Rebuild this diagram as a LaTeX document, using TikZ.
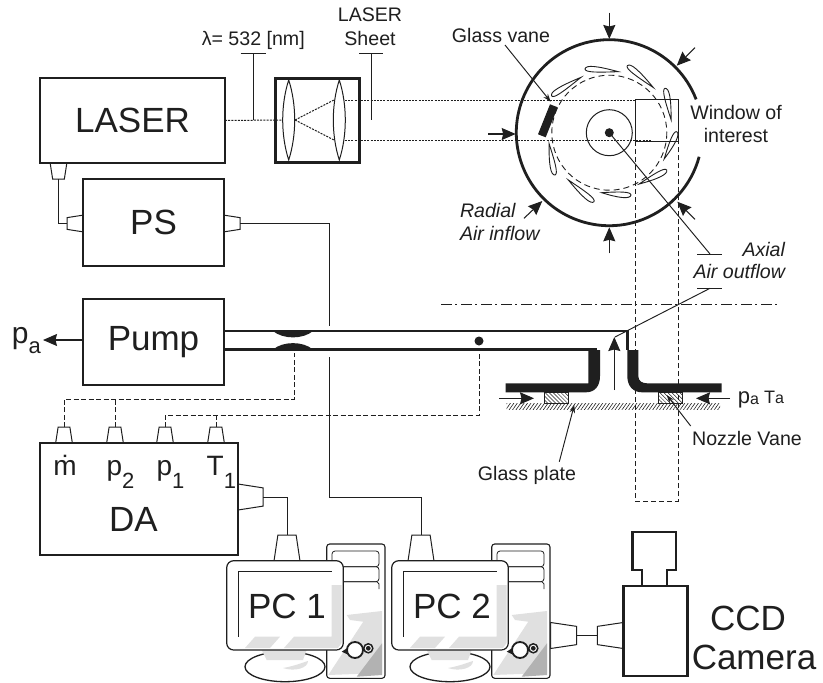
\documentclass[tikz,border=0pt]{standalone}
\usepackage{fontspec}
\setmainfont{Liberation Sans}
\usetikzlibrary{arrows.meta,shapes.geometric,patterns.meta}
\tikzset{
  boxnode/.style={draw=drawColor,line width=2.7pt,inner sep=0pt,outer sep=0pt,text=drawColor,font=\fontsize{35}{35}\selectfont},
  bigtext/.style={text=drawColor,inner sep=0pt,outer sep=0pt,font=\fontsize{35}{35}\selectfont},
  midtext/.style={text=drawColor,inner sep=0pt,outer sep=0pt,font=\fontsize{28}{28}\selectfont},
  smalltext/.style={text=drawColor,inner sep=0pt,outer sep=0pt,font=\fontsize{19.6}{20}\selectfont},
  plug/.style={draw=drawColor,line width=1pt,trapezium,trapezium stretches=true,trapezium angle=78,inner sep=1pt,outer sep=0pt,minimum width=16.7pt,minimum height=16pt},
  bigplug/.style={plug,minimum width=26pt,minimum height=26pt},
  wire/.style={draw=drawColor,line width=0.95pt},
  sigwire/.style={draw=drawColor,line width=0.95pt,dash pattern=on 5pt off 2.5pt},
  beam/.style={draw=drawColor,line width=1pt,dash pattern=on 2pt off 1.2pt},
  pipe/.style={draw=drawColor,line width=2.4pt},
  lens/.style={draw=drawColor,line width=1pt},
  airfoil/.style={draw=drawColor,line width=0.9pt,fill=white},
  flowarrow/.style={draw=drawColor,line width=1.05pt,-{Stealth[length=14pt,width=12pt,inset=1.5pt]}},
  pointer/.style={draw=drawColor,line width=0.95pt,-{Stealth[length=8pt,width=5.5pt]}},
  pcunit/.pic={
    % tower
    \path[draw=drawColor,fill=white,line width=1.1pt,rounded corners=3pt] (326.7,544) rectangle (385,678.3);
    \path[fill=black!12] (346.7,615) -- (382,611) -- (382,673) -- (328.3,675) -- (363.3,621.7) -- (350,620) -- cycle;
    \path[fill=black!30] (382,643.3) -- (382,675) -- (356.7,676.7) -- cycle;
    \path[draw=drawColor,line width=0.8pt,rounded corners=3pt] (332,551) rectangle (379,566.7);
    \path[draw=drawColor,line width=0.8pt,rounded corners=3pt] (332,566.7) rectangle (379,581.7);
    \path[draw=drawColor,line width=0.8pt] (332,581.7) -- (377,581.7) -- (379,584) -- (379,589);
    % knob
    \path[fill=drawColor] (341.7,651.7) -- (349,647) -- (349,655) -- cycle;
    \path[draw=drawColor,fill=white,line width=1.5pt] (368.3,648.3) circle (4.5);
    \path[fill=drawColor] (368.3,648.3) circle (2.4);
    \path[draw=drawColor,fill=white,line width=1.8pt] (355,650) circle (8);
    % foot
    \path[draw=drawColor,fill=white,line width=1.3pt] (285,666.7) ellipse (40 and 15);
    \path[fill=black!12] (283,668) .. controls (295,666) and (304,662) .. (308,661) .. controls (308,668) and (295,672) .. (283,668) -- cycle;
    \path[fill=black!12] (261.7,650) -- (306.7,650) -- (303,660) -- (266.7,660) -- cycle;
    % monitor
    \path[draw=drawColor,fill=white,line width=1.2pt,rounded corners=7pt] (226.7,560.7) rectangle (343.3,650);
    \path[fill=black!12] (331.7,585) -- (341.5,585) -- (341.5,643) -- (338,648) -- (284,648) -- (294,636.7) -- (331.7,636.7) -- cycle;
    \path[fill=black!12] (245,648) -- (255,636.7) -- (280,636.7) -- (270,648) -- cycle;
    \path[draw=drawColor,line width=1.1pt] (238.3,636.7) -- (238.3,571.7) -- (331.7,571.7);
    \node[bigtext,anchor=base] (-label) at (287,618) {\tikzpictext};
  }
}
\begin{document}
\begin{tikzpicture}[x=1pt,y=-1pt]
\definecolor{drawColor}{gray}{0.12}
\path[use as bounding box,fill=white] (0,0) rectangle (823,683);

% boxes on the left
\node[boxnode,minimum width=185pt,minimum height=85pt] (laser) at (132.5,120.5) {LASER};
\node[boxnode,minimum width=141pt,minimum height=87pt] (ps) at (153.5,222.5) {PS};
\node[boxnode,minimum width=141pt,minimum height=86pt] (pump) at (153.5,342) {Pump};
\node[boxnode,minimum width=198pt,minimum height=112pt] (da) at (139,499) {};
\node[bigtext,anchor=base] (datext) at (133.5,531) {DA};

% plugs
\node[plug,rotate=180,anchor=bottom side] (plugl) at (58.5,163) {};
\node[plug,rotate=90,anchor=bottom side] (plugpsa) at (83,223.5) {};
\node[plug,rotate=-90,anchor=bottom side] (plugpsb) at (224,223.5) {};
\node[plug,anchor=bottom side] (plugm) at (64,443) {};
\node[plug,anchor=bottom side] (plugpb) at (115,443) {};
\node[plug,anchor=bottom side] (plugpa) at (165,443) {};
\node[plug,anchor=bottom side] (plugt) at (216,443) {};
\node[bigplug,rotate=-90,anchor=bottom side,minimum height=25pt] (plugda) at (238,497) {};
\node[bigplug,anchor=bottom side] (plugpca) at (287,561) {};
\node[bigplug,anchor=bottom side] (plugpcb) at (421,561) {};
\node[bigplug,rotate=-90,anchor=bottom side] (plugtower) at (550.7,635.5) {};
\node[bigplug,rotate=90,anchor=bottom side] (plugcam) at (623.3,635.5) {};

% wiring
\coordinate (wirea) at (329,326);
\coordinate (wireb) at (329,357);
\coordinate (wirec) at (421,497);
\coordinate (tapa) at (294,353);
\coordinate (tapb) at (479,353);
\coordinate (busa) at (64,399);
\coordinate (busb) at (165,415);
\draw[wire] (plugl.top side) |- (plugpsa.top side);
\draw[wire] (plugpsb.top side) -| (wirea);
\draw[wire] (wireb) |- (wirec) -- (plugpcb.top side);
\draw[wire] (plugda.top side) -| (plugpca.top side);
\draw[wire] (plugtower.top side) -- (plugcam.top side);
\draw[sigwire] (plugm.top side) -- (busa) -| (tapa);
\draw[sigwire] (plugpb.top side) -- (busa -| plugpb.top side);
\draw[sigwire] (plugpa.top side) -- (busb) -| (tapb);
\draw[sigwire] (plugt.top side) -- (busb -| plugt.top side);

% DA channels
\node[midtext,anchor=base] (mdot) at (65,475) {\.{m}};
\node[midtext,anchor=base west] (ptwo) at (106.5,475) {p\raisebox{-13pt}{\fontsize{22}{22}\selectfont 2}};
\node[midtext,anchor=base west] (pone) at (156.5,475) {p\raisebox{-13pt}{\fontsize{22}{22}\selectfont 1}};
\node[midtext,anchor=base west] (tone) at (206.7,475) {T\raisebox{-13pt}{\fontsize{22}{22}\selectfont 1}};

% outlet of the pump
\coordinate (patm) at (43,340);
\draw[flowarrow] (pump.west |- patm) -- (patm);
\node[bigtext,anchor=base west,font=\fontsize{30}{30}\selectfont] (pa) at (12,343) {p\raisebox{-10pt}{\fontsize{22}{22}\selectfont a}};

% pipes and venturi
\coordinate (pipeend) at (627.3,331);
\coordinate (pipelow) at (597,349.5);
\draw[pipe] (pump.east |- pipeend) -- (pipeend) -- (627.3,350);
\draw[pipe] (pump.east |- pipelow) -- (pipelow);
\path[fill=drawColor] (273,331) .. controls (283,339.5) and (303,339.5) .. (313,331) -- cycle;
\path[fill=drawColor] (273,349.5) .. controls (283,341) and (303,341) .. (313,349.5) -- cycle;
\path[fill=drawColor] (479,341) circle (4.5);

% nozzle
\path[fill=drawColor] (505.7,383.3) -- (588.3,383.3) -- (588.3,350) -- (600,350) -- (600,376) .. controls (600,386) and (595,392.3) .. (586,392.3) -- (505.7,392.3) -- cycle;
\path[fill=drawColor] (627.3,350) -- (638.3,350) -- (638.3,376) .. controls (638.3,381) and (642,383.3) .. (647,383.3) -- (721.7,383.3) -- (721.7,392.3) -- (642,392.3) .. controls (633,392.3) and (627.3,386) .. (627.3,376) -- cycle;
\path[pattern={Lines[angle=55,distance=2.8pt,line width=0.6pt]},pattern color=drawColor] (506.7,403.3) rectangle (720,409.3);
\path[draw=drawColor,line width=0.8pt,pattern={Lines[angle=-45,distance=2.8pt,line width=0.5pt]},pattern color=drawColor] (544.7,392.3) rectangle (568.7,403.3);
\path[draw=drawColor,line width=0.8pt,pattern={Lines[angle=-45,distance=2.8pt,line width=0.5pt]},pattern color=drawColor] (658.7,392.3) rectangle (682.7,403.3);
\draw[flowarrow] (614.3,390) -- (614.3,337);
\draw[flowarrow] (499.3,398.3) -- (534,398.3);
\draw[flowarrow] (730,398.3) -- (696,398.3);
\draw[pointer] (559.3,461.7) -- (574.3,405);
\draw[pointer] (690.7,426) -- (666.7,395);
\node[smalltext,anchor=base] (glassplate) at (527,480) {Glass plate};
\node[smalltext,anchor=base] (nozzlevane) at (747,445) {Nozzle Vane};
\node[text=drawColor,inner sep=0pt,anchor=base west,font=\fontsize{22}{22}\selectfont] (pamb) at (737.7,403) {p\raisebox{-1.5pt}{\fontsize{16}{16}\selectfont a}};
\node[text=drawColor,inner sep=0pt,anchor=base west,font=\fontsize{18}{18}\selectfont] (tamb) at (764,403) {T\raisebox{-0.5pt}{\fontsize{16}{16}\selectfont a}};

% light sheet optics
\node[boxnode,minimum width=84pt,minimum height=84.4pt] (optics) at (317.3,120.5) {};
\draw[lens] (288.7,80) .. controls (280.7,105) and (280.7,135) .. (288.7,160) .. controls (296.7,135) and (296.7,105) .. (288.7,80) -- cycle;
\draw[lens] (339.3,80) .. controls (331.3,105) and (331.3,135) .. (339.3,160) .. controls (347.3,135) and (347.3,105) .. (339.3,80) -- cycle;
\draw[beam] (laser.east) -- (282,120);
\draw[beam] (295,120) -- (334,100);
\draw[beam] (295,120) -- (334,140);
\draw[beam] (345,100) -- (636,100);
\draw[beam] (345,140) -- (652,140);
\draw[wire] (253.3,53.3) -- (253.3,120);
\draw[wire] (240.7,53.3) -- (266,53.3);
\draw[wire] (371,53.3) -- (371,120);
\draw[wire] (359,53.3) -- (383.3,53.3);
\node[smalltext,anchor=base] (lambda) at (253.3,45) {λ= 532 [nm]};
\node[smalltext,anchor=base] (sheeta) at (370,21.7) {LASER};
\node[smalltext,anchor=base] (sheetb) at (370,45) {Sheet};

% rotor seen from the top
\coordinate (ringc) at (609.3,132.7);
\draw[draw=drawColor,line width=2.8pt] (ringc) ++(-21:93) arc[start angle=-21,end angle=-345,radius=93];
\draw[draw=drawColor,line width=0.9pt,dash pattern=on 6pt off 4pt] (ringc) circle (57.5);
\draw[draw=drawColor,line width=1pt] (ringc) circle (23);
\path[fill=drawColor] (ringc) circle (4.5);
\path[fill=drawColor] (550,104.3) -- (557.7,107.3) -- (545.7,137.3) -- (538,134.3) -- cycle;
\path[airfoil,shift={(585,69)},rotate=-4.6] (0,0) .. controls (0.5,-4.5) and (12,-4) .. (33.4,0) .. controls (12,2.5) and (0.5,3.5) .. (0,0) -- cycle;
\path[airfoil,shift={(627.3,65.7)},rotate=-40] (0,0) .. controls (0.5,-4.5) and (12,-4) .. (34,0) .. controls (12,2.5) and (0.5,3.5) .. (0,0) -- cycle;
\path[airfoil,shift={(665,88.3)},rotate=-79] (0,0) .. controls (0.5,-4.5) and (12,-4) .. (32,0) .. controls (12,2.5) and (0.5,3.5) .. (0,0) -- cycle;
\path[airfoil,shift={(676.7,131.7)},rotate=-114.7] (0,0) .. controls (0.5,-4.5) and (12,-4) .. (30,0) .. controls (12,2.5) and (0.5,3.5) .. (0,0) -- cycle;
\path[airfoil,shift={(666.7,170)},rotate=-153] (0,0) .. controls (0.5,-4.5) and (12,-4) .. (31,0) .. controls (12,2.5) and (0.5,3.5) .. (0,0) -- cycle;
\path[airfoil,shift={(631,195)},rotate=175.5] (0,0) .. controls (0.5,-4.5) and (12,-4) .. (29.4,0) .. controls (12,2.5) and (0.5,3.5) .. (0,0) -- cycle;
\path[airfoil,shift={(594,201.7)},rotate=139.8] (0,0) .. controls (0.5,-4.5) and (12,-4) .. (33.6,0) .. controls (12,2.5) and (0.5,3.5) .. (0,0) -- cycle;
\path[airfoil,shift={(555,175)},rotate=100.7] (0,0) .. controls (0.5,-4.5) and (12,-4) .. (32,0) .. controls (12,2.5) and (0.5,3.5) .. (0,0) -- cycle;
\path[airfoil,shift={(551.7,96)},rotate=32.5] (0,0) .. controls (0.5,-4.5) and (12,-4) .. (34.8,0) .. controls (12,2.5) and (0.5,3.5) .. (0,0) -- cycle;

% window of interest
\path[draw=drawColor,line width=0.9pt] (635.7,99.3) rectangle (678,141.3);
\path[draw=drawColor,line width=0.9pt,dash pattern=on 5pt off 3pt] (635.7,141.3) -- (635.7,501.7) -- (678,501.7) -- (678,141.3);
\path[draw=drawColor,line width=0.8pt,dash pattern=on 11pt off 3pt on 2pt off 4pt] (441,304) -- (777,304);

% radial inflow arrows
\draw[flowarrow] (609.3,12.7) -- (609.3,39);
\draw[flowarrow] (695,47.7) -- (676.7,65.7);
\draw[flowarrow] (695,219.3) -- (677.3,201.7);
\draw[flowarrow] (609.3,253.3) -- (609.3,227.3);
\draw[flowarrow] (488.3,134) -- (515.7,134);
\draw[flowarrow] (524,218.3) -- (542.3,201);
\draw[pointer] (505,45) -- (550.7,101.7);

% axial outflow leaders
\coordinate (ticka) at (710,254);
\coordinate (tickb) at (710,288.3);
\draw[wire] (ringc) -- (ticka);
\draw[wire] (697.3,254) -- (721.7,254);
\draw[wire] (615,337) -- (tickb);
\draw[wire] (697.3,288.3) -- (721.7,288.3);

\node[smalltext,anchor=base] (glassvane) at (501,42.7) {Glass vane};
\node[smalltext,anchor=base] (windowa) at (736,119.3) {Window of};
\node[smalltext,anchor=base] (windowb) at (736,142.7) {interest};
\node[smalltext,anchor=base west,font=\fontsize{19.6}{20}\selectfont\itshape] (radiala) at (460,217.7) {Radial};
\node[smalltext,anchor=base west,font=\fontsize{19.6}{20}\selectfont\itshape] (radialb) at (460,240.7) {Air inflow};
\node[smalltext,anchor=base east,font=\fontsize{19.6}{20}\selectfont\itshape] (axiala) at (785,256) {Axial};
\node[smalltext,anchor=base east,font=\fontsize{19.6}{20}\selectfont\itshape] (axialb) at (785,278) {Air outflow};

% computers and camera
\pic[pic text={PC 1}] (pca) at (0,0) {pcunit};
\pic[pic text={PC 2}] (pcb) at (165,0) {pcunit};
\node[boxnode,minimum width=64pt,minimum height=90pt] (cambody) at (655.3,631) {};
\path[draw=drawColor,line width=2.4pt] (641.7,586) -- (641.7,570) -- (632.3,570) -- (632.3,531.7) -- (675.7,531.7) -- (675.7,570) -- (666.7,570) -- (666.7,586);
\node[bigtext,anchor=base] (ccd) at (748,630) {CCD};
\node[bigtext,anchor=base] (camera) at (754,669) {Camera};
\end{tikzpicture}
\end{document}
